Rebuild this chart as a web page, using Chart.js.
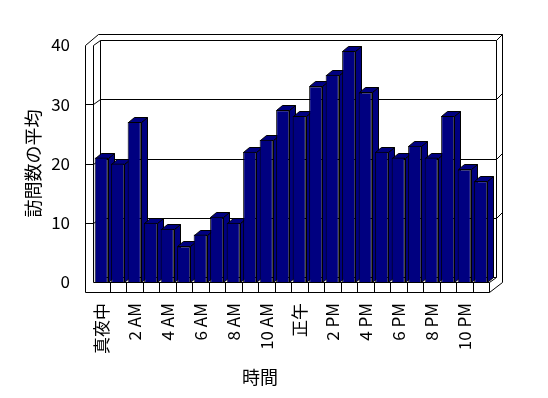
<!DOCTYPE html>
<html>
<head>
<meta charset="utf-8">
<script src="https://cdn.jsdelivr.net/npm/chart.js@4"></script>
<style>
  body { margin: 0; background: #fff; }
  #wrap { width: 548px; height: 398px; }
</style>
</head>
<body>
<div id="wrap"><canvas id="chart"></canvas></div>
<script>
// hours of the day (only every other label is shown on the axis)
const hours = ['真夜中', '1 AM', '2 AM', '3 AM', '4 AM', '5 AM', '6 AM', '7 AM', '8 AM', '9 AM', '10 AM', '11 AM',
               '正午', '1 PM', '2 PM', '3 PM', '4 PM', '5 PM', '6 PM', '7 PM', '8 PM', '9 PM', '10 PM', '11 PM'];
const avgVisits = [21, 20, 27, 10, 9, 6, 8, 11, 10, 22, 24, 29, 28, 33, 35, 39, 32, 22, 21, 23, 21, 28, 19, 17];
const yMin = 0, yMax = 40, yStep = 10;
const xTitle = '時間';
const yTitle = '訪問数の平均';

const FONT = '"Noto Sans CJK JP", "Noto Sans", sans-serif';
const NAVY = '#000080';

// depth offsets for the fake 3d look
const BAR_DX = 6, BAR_DY = 5;
const D1X = 7, D1Y = 5;     // front of back wall
const D2X = 13, D2Y = 11;   // back of back wall
const WALL = 8, FLOOR = 10;

const px = v => Math.round(v) + 0.5;

function line(ctx, pts) {
  ctx.beginPath();
  ctx.moveTo(px(pts[0][0]), px(pts[0][1]));
  for (let i = 1; i < pts.length; i++) ctx.lineTo(px(pts[i][0]), px(pts[i][1]));
  ctx.stroke();
}

const box3d = {
  id: 'box3d',
  beforeDatasetsDraw(chart) {
    const { ctx, chartArea: a, scales: { x, y } } = chart;
    const L = a.left, R = a.right, T = y.getPixelForValue(yMax), B = y.getPixelForValue(yMin);
    ctx.save();
    ctx.strokeStyle = '#000';
    ctx.lineWidth = 1;

    // outer outline
    line(ctx, [[L - WALL, B + FLOOR], [L - WALL, T], [L - WALL + D2X, T - D2Y], [R + D2X, T - D2Y],
               [R + D2X, B], [R, B + FLOOR], [L - WALL, B + FLOOR]]);
    // left wall inner edge + top
    line(ctx, [[L, B], [L, T], [L + D1X, T - D1Y]]);
    // back wall front face
    line(ctx, [[L + D1X, B - D1Y], [L + D1X, T - D1Y], [R + D1X, T - D1Y], [R + D1X, B - D1Y], [L + D1X, B - D1Y]]);
    line(ctx, [[R + D1X, T - D1Y], [R + D2X, T - D2Y]]);
    // floor
    line(ctx, [[L, B], [R, B], [R, B + FLOOR]]);
    line(ctx, [[R, B], [R + D1X, B - D1Y]]);
    for (let i = 0; i < hours.length - 1; i++) {
      const bx = (x.getPixelForValue(i) + x.getPixelForValue(i + 1)) / 2;
      line(ctx, [[bx, B], [bx, B + FLOOR]]);
    }
    // gridlines
    for (let v = yMin + yStep; v < yMax; v += yStep) {
      const gy = y.getPixelForValue(v);
      line(ctx, [[L - WALL, gy], [L, gy], [L + D1X, gy - D1Y], [R + D1X, gy - D1Y], [R + D2X, gy - D2Y]]);
    }

    // bar tops and sides (fronts are drawn by chart.js on top)
    const meta = chart.getDatasetMeta(0);
    ctx.fillStyle = NAVY;
    meta.data.forEach(el => {
      const l = el.x - el.width / 2, r = el.x + el.width / 2, t = el.y, b = el.base;
      ctx.beginPath();
      ctx.moveTo(px(r), px(t));
      ctx.lineTo(px(r + BAR_DX), px(t - BAR_DY));
      ctx.lineTo(px(r + BAR_DX), px(b - BAR_DY));
      ctx.lineTo(px(r), px(b));
      ctx.closePath();
      ctx.fill();
      ctx.stroke();
      ctx.beginPath();
      ctx.moveTo(px(l), px(t));
      ctx.lineTo(px(l + BAR_DX), px(t - BAR_DY));
      ctx.lineTo(px(r + BAR_DX), px(t - BAR_DY));
      ctx.lineTo(px(r), px(t));
      ctx.closePath();
      ctx.fill();
      ctx.stroke();
    });
    ctx.restore();
  },
  afterDraw(chart) {
    const { ctx } = chart;
    ctx.save();
    ctx.fillStyle = '#000';
    ctx.font = '18px ' + FONT;
    ctx.textAlign = 'center';
    ctx.textBaseline = 'middle';
    ctx.fillText(xTitle, 260, 377);
    ctx.restore();
  }
};

new Chart(document.getElementById('chart'), {
  type: 'bar',
  data: {
    labels: hours,
    datasets: [{
      data: avgVisits,
      backgroundColor: NAVY,
      borderColor: '#000',
      borderWidth: 1,
      barPercentage: 0.8,
      categoryPercentage: 1,
    }],
  },
  options: {
    responsive: true,
    maintainAspectRatio: false,
    animation: false,
    layout: { padding: { left: 0, right: 59, top: 45, bottom: 0 } },
    plugins: { legend: { display: false }, tooltip: { enabled: false } },
    scales: {
      x: {
        grid: { display: false, drawTicks: false },
        border: { display: false },
        ticks: {
          autoSkip: false,
          maxRotation: 90,
          minRotation: 90,
          padding: 21,
          color: '#000',
          font: { family: FONT, size: 17 },
          callback: (val, i) => (i % 2 === 0 ? hours[i] : ''),
        },
        afterFit: s => { s.height = 116; },
      },
      y: {
        min: yMin,
        max: yMax,
        grid: { display: false, drawTicks: false },
        border: { display: false },
        ticks: { stepSize: yStep, padding: 23, color: '#000', font: { family: FONT, size: 17 } },
        title: { display: true, text: yTitle, color: '#000', font: { family: FONT, size: 18 }, padding: { top: 22, bottom: 0 } },
        afterFit: s => { s.width = 93; },
      },
    },
  },
  plugins: [box3d],
});
</script>
</body>
</html>
